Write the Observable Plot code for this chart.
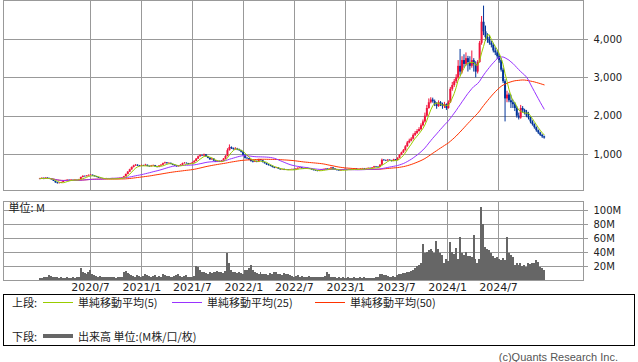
<!DOCTYPE html>
<html><head><meta charset="utf-8">
<script src="https://cdn.jsdelivr.net/npm/d3@7"></script>
<script src="https://cdn.jsdelivr.net/npm/@observablehq/plot@0.6"></script>
<style>
body{margin:0;background:#fff;}
#wrap{position:relative;width:638px;height:362px;overflow:hidden;background:#fff;font-family:"Noto Sans CJK JP","Noto Sans",sans-serif;color:#222;}
#top,#bottom{position:absolute;left:0;}
#top{top:0}
#bottom{top:191px}
#bottom g[aria-label="x-axis tick label"] text{font-size:11px}
.lg{position:absolute;font-size:11px;line-height:13px;white-space:nowrap;color:#222}
.ln{position:absolute;height:1px;width:30px}
#box{position:absolute;left:3px;top:294px;width:630px;height:50px;border:1px solid #000;}
#copy{position:absolute;top:351px;right:20px;font:11px "Liberation Sans",Arial,sans-serif;line-height:13px;color:#555;}
</style></head>
<body><div id="wrap"><div id="top"></div><div id="bottom"></div>
<div id="box"></div>
<span class="lg" style="left:12px;top:296px">上段:</span>
<div class="ln" style="left:43px;top:302px;background:#99cc00"></div>
<span class="lg" style="left:78px;top:296px">単純移動平均(5)</span>
<div class="ln" style="left:172px;top:302px;background:#9933ff"></div>
<span class="lg" style="left:207px;top:296px">単純移動平均(25)</span>
<div class="ln" style="left:315px;top:302px;background:#ff3300"></div>
<span class="lg" style="left:350px;top:296px">単純移動平均(50)</span>
<span class="lg" style="left:12px;top:330px">下段:</span>
<div class="ln" style="left:43px;top:334px;height:4px;background:#666"></div>
<span class="lg" style="left:78px;top:330px">出来高 単位:(M株/口/枚)</span>
<span id="copy">(c)Quants Research Inc.</span>
</div>
<script>
// weekly bars, first week starting Monday 2019-12-30
const firstWeek = Date.UTC(2019, 11, 30);
const open = [
360,370,380,365,385,375,360,340,300,260,
240,250,270,300,320,330,325,335,330,340,
335,345,400,430,420,440,455,460,440,420,
400,380,370,365,360,370,365,360,370,365,
370,375,380,390,420,480,540,600,660,700,
720,700,690,710,700,720,690,680,700,710,
680,660,700,720,760,780,760,770,740,720,
700,680,700,720,760,770,760,740,760,780,
820,880,940,970,960,990,940,900,860,880,
830,800,820,800,830,880,950,1100,1180,1150,
1130,1140,1120,1100,1060,980,900,890,860,820,
800,820,800,860,840,790,760,730,710,690,
660,640,650,620,600,610,590,600,590,600,
610,600,620,640,650,630,620,640,630,620,
600,580,570,560,580,600,610,620,600,620,
650,620,600,580,570,590,600,610,600,610,
600,610,620,600,610,620,630,620,630,640,
630,650,680,670,660,720,850,840,830,850,
840,820,860,840,900,980,1040,1100,1200,1300,
1350,1400,1500,1550,1600,1650,1750,1850,2000,2200,
2350,2420,2380,2300,2250,2350,2300,2250,2300,2200,
2350,2700,2800,2900,3000,3300,3150,3450,3350,3500,
3400,3300,3450,3350,3150,3400,3900,4450,4200,4050,
4000,3900,3850,3700,3650,3550,3450,3200,2900,2450,
2550,2400,2350,2300,2200,2000,1950,2200,2150,2100,
2000,1950,1850,1780,1700,1620,1560,1500,1460];
const close = [
370,380,365,385,375,360,340,300,260,240,
250,270,300,320,330,325,335,330,340,335,
345,400,430,420,440,455,460,440,420,400,
380,370,365,360,370,365,360,370,365,370,
375,380,390,420,480,540,600,660,700,720,
700,690,710,700,720,690,680,700,710,680,
660,700,720,760,780,760,770,740,720,700,
680,700,720,760,770,760,740,760,780,820,
880,940,970,960,990,940,900,860,880,830,
800,820,800,830,880,950,1100,1180,1150,1130,
1140,1120,1100,1060,980,900,890,860,820,800,
820,800,860,840,790,760,730,710,690,660,
640,650,620,600,610,590,600,590,600,610,
600,620,640,650,630,620,640,630,620,600,
580,570,560,580,600,610,620,600,620,650,
620,600,580,570,590,600,610,600,610,600,
610,620,600,610,620,630,620,630,640,630,
650,680,670,660,720,850,840,830,850,840,
820,860,840,900,980,1040,1100,1200,1300,1350,
1400,1500,1550,1600,1650,1750,1850,2000,2200,2350,
2420,2380,2300,2250,2350,2300,2250,2300,2200,2350,
2700,2800,2900,3000,3300,3150,3450,3350,3500,3400,
3300,3450,3350,3150,3400,3900,4450,4200,4050,4000,
3900,3850,3700,3650,3550,3450,3200,2900,2450,2550,
2400,2350,2300,2200,2000,1950,2200,2150,2100,2000,
1950,1850,1780,1700,1620,1560,1500,1460,1430];
const high = [
378,388,385,392,390,380,365,345,305,268,
262,278,310,328,340,338,342,340,348,345,
352,410,445,438,450,468,475,465,445,425,
405,388,378,372,378,375,370,378,375,378,
382,388,398,430,490,555,615,675,720,740,
730,715,725,720,745,725,700,715,725,715,
690,710,735,775,800,790,785,775,750,728,
710,712,735,775,790,780,768,770,795,840,
895,960,995,985,1010,1000,950,910,900,890,
840,835,830,845,895,970,1150,1250,1200,1170,
1180,1160,1140,1110,1070,990,920,900,870,840,
840,830,875,870,850,800,770,740,720,700,
670,660,660,630,620,620,610,605,610,620,
618,630,652,665,660,640,650,645,635,625,
610,590,580,590,610,620,630,630,630,665,
655,630,608,588,598,610,622,615,618,615,
618,628,625,615,628,638,636,638,648,645,
658,690,688,678,735,880,870,855,870,862,
848,875,870,915,995,1060,1130,1230,1340,1400,
1440,1540,1600,1650,1700,1800,1900,2080,2280,2450,
2480,2470,2420,2350,2400,2380,2340,2360,2320,2400,
2750,2880,2960,3080,3450,3740,3550,3600,3650,3560,
3550,3700,3500,3420,3450,3950,4600,4870,4350,4150,
4100,3950,3900,3780,3720,3600,3500,3250,2950,2650,
2600,2550,2420,2350,2250,2080,2280,2250,2180,2150,
2100,1980,1880,1800,1720,1640,1580,1520,1480];
const low = [
355,365,360,362,370,355,335,295,250,230,
235,245,265,295,315,320,320,325,325,330,
330,340,390,410,415,435,448,435,415,395,
375,365,360,352,356,360,355,356,360,362,
365,370,375,385,415,470,530,590,650,690,
690,680,685,690,695,680,665,672,690,670,
650,655,690,710,750,750,752,735,710,690,
668,672,692,715,750,750,730,735,752,775,
815,870,930,945,950,930,890,850,850,820,
790,790,790,790,825,870,940,1090,1130,1110,
1110,1100,1080,1040,960,880,870,840,800,780,
790,785,790,830,780,750,715,700,680,650,
630,630,610,590,590,580,585,580,585,595,
590,595,612,630,622,610,612,620,610,592,
572,560,548,555,575,595,600,592,595,615,
612,592,570,560,565,585,595,592,596,592,
594,602,595,596,605,615,612,615,625,622,
625,645,662,652,655,715,825,815,825,830,
805,812,830,835,890,970,1030,1090,1190,1280,
1330,1380,1470,1520,1580,1620,1720,1820,1980,2180,
2320,2340,2250,2180,2230,2250,2180,2200,2150,2180,
2330,2650,2750,2850,2960,3050,3100,3250,3300,3150,
3200,3250,3150,3000,3100,3380,3850,4100,3950,3900,
3850,3780,3650,3580,3480,3380,3150,2850,1850,2350,
2350,2200,2200,2120,1950,1900,1920,2080,2030,1960,
1900,1800,1740,1660,1580,1520,1470,1420,1400];
// volume, millions of shares
const volume = [
3,3,4,4,5,7,6,5,4,4,
3,4,3,3,4,3,3,4,3,4,
5,17,11,10,8,12,15,9,7,6,
5,6,5,5,4,4,5,4,4,3,
4,5,5,12,13,10,8,7,6,5,
7,6,5,6,8,7,6,5,6,7,
5,6,5,8,7,6,6,5,5,6,
7,8,6,5,6,7,5,5,5,6,
20,18,14,12,11,10,9,12,10,11,
12,13,11,12,10,13,38,25,14,12,
11,10,12,10,9,14,15,17,21,14,
12,10,9,11,8,9,8,7,10,9,
12,11,8,9,7,10,9,8,7,6,
5,6,7,5,6,5,4,5,6,5,
4,4,5,4,5,4,6,11,9,5,
4,4,3,4,3,4,3,3,4,3,
3,4,3,3,4,3,4,3,3,3,
3,3,4,5,8,8,7,7,6,5,
5,6,5,7,8,9,10,10,11,12,
13,14,17,20,22,25,51,39,40,43,
44,42,38,56,44,39,36,25,30,27,
54,40,37,46,30,62,38,36,40,34,
35,33,65,30,25,30,104,80,47,44,
43,38,34,32,33,30,28,32,29,62,
38,36,33,22,24,21,25,20,22,19,
24,23,25,24,28,26,19,17,15];
const priceTicks = [1000, 2000, 3000, 4000];
const volumeTicks = [20, 40, 60, 80, 100];
const xTickDates = ["2020-07-01","2021-01-01","2021-07-01","2022-01-01","2022-07-01","2023-01-01","2023-07-01","2024-01-01","2024-07-01"];
const xTickLabels = ["2020/7","2021/1","2021/7","2022/1","2022/7","2023/1","2023/7","2024/1","2024/7"];

const DAY = 864e5;
const xTicks = xTickDates.map(s => new Date(s + "T00:00:00Z"));
const rows = close.map((c, i) => ({
  week: new Date(firstWeek + i * 7 * DAY),
  open: open[i], high: high[i], low: low[i], close: c, volume: volume[i]
}));
const mid = d => new Date(+d.week + 2.5 * DAY);
const dir = d => d.close >= d.open ? "up" : "down";
const xDomain = [new Date(Date.UTC(2019, 7, 24, 12)), new Date(Date.UTC(2025, 4, 1, 10))];
const UP = "#f0143c", DOWN = "#003399";

const upper = Plot.plot({
  width: 638, height: 191,
  marginLeft: 3, marginRight: 55, marginTop: 0, marginBottom: 1,
  style: {fontFamily: "DejaVu Sans", fontSize: "10px", color: "#222", background: "#fff", overflow: "visible"},
  x: {type: "utc", domain: xDomain, axis: null},
  y: {domain: [61, 5017], axis: "right", ticks: priceTicks, tickSize: 0, tickPadding: 10, tickFormat: d3.format(","), label: null},
  color: {domain: ["up", "down"], range: [UP, DOWN]},
  marks: [
    Plot.ruleX(xTicks, {stroke: "#999", shapeRendering: "crispEdges"}),
    Plot.ruleY(priceTicks, {stroke: "#999", insetRight: -5, shapeRendering: "crispEdges"}),
    Plot.frame({stroke: "#999"}),
    Plot.ruleX(rows, {x: mid, y1: "low", y2: "high", stroke: dir, strokeWidth: 1}),
    Plot.ruleX(rows, {x: mid, y1: "open", y2: "close", stroke: dir, strokeWidth: 2}),
    Plot.lineY(rows, Plot.windowY({k: 50, anchor: "end", reduce: "mean"}, {x: mid, y: "close", stroke: "#ff3300", strokeWidth: 1})),
    Plot.lineY(rows, Plot.windowY({k: 25, anchor: "end", reduce: "mean"}, {x: mid, y: "close", stroke: "#9933ff", strokeWidth: 1})),
    Plot.lineY(rows, Plot.windowY({k: 5, anchor: "end", reduce: "mean"}, {x: mid, y: "close", stroke: "#99cc00", strokeWidth: 1}))
  ]
});
document.getElementById("top").appendChild(upper);

const lower = Plot.plot({
  width: 638, height: 105,
  marginLeft: 3, marginRight: 55, marginTop: 10, marginBottom: 16,
  style: {fontFamily: "DejaVu Sans", fontSize: "10px", color: "#222", background: "#fff", overflow: "visible"},
  x: {type: "utc", domain: xDomain, ticks: xTicks, tickSize: 0, tickPadding: 3, label: null,
      tickFormat: d => xTickLabels[xTicks.findIndex(t => +t === +d)]},
  y: {domain: [0, 112.86], axis: "right", ticks: volumeTicks, tickSize: 0, tickPadding: 10, tickFormat: d => d + "M", label: null},
  marks: [
    Plot.ruleX(xTicks, {stroke: "#999", shapeRendering: "crispEdges"}),
    Plot.ruleY(volumeTicks, {stroke: "#999", insetRight: -5, shapeRendering: "crispEdges"}),
    Plot.rectY(rows, {x1: "week", x2: d => new Date(+d.week + 7 * DAY), y: "volume", fill: "#666", shapeRendering: "crispEdges"}),
    Plot.frame({stroke: "#999"}),
    Plot.text(["単位: M"], {frameAnchor: "top-left", dx: 5, dy: 3, text: d => d, fontFamily: "Noto Sans CJK JP", fontSize: 11, fill: "#222", textAnchor: "start"})
  ]
});
document.getElementById("bottom").appendChild(lower);
</script>
</body></html>
